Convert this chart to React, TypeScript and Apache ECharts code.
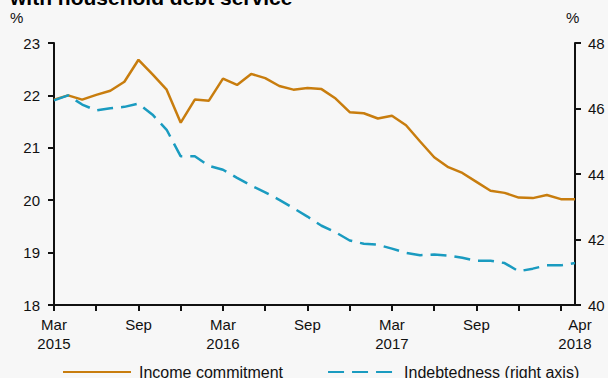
import React, { useEffect, useRef } from "react";
import * as echarts from "echarts";

const categories = [
  "2015-03", "2015-04", "2015-05", "2015-06", "2015-07", "2015-08", "2015-09", "2015-10", "2015-11", "2015-12",
  "2016-01", "2016-02", "2016-03", "2016-04", "2016-05", "2016-06", "2016-07", "2016-08", "2016-09", "2016-10", "2016-11", "2016-12",
  "2017-01", "2017-02", "2017-03", "2017-04", "2017-05", "2017-06", "2017-07", "2017-08", "2017-09", "2017-10", "2017-11", "2017-12",
  "2018-01", "2018-02", "2018-03", "2018-04",
];

const incomeCommitment = [
  21.92, 22.0, 21.92, 22.01, 22.09, 22.26, 22.68, 22.4, 22.11, 21.48,
  21.92, 21.9, 22.32, 22.2, 22.41, 22.33, 22.18, 22.11, 22.14, 22.12, 21.94, 21.68,
  21.66, 21.56, 21.61, 21.43, 21.12, 20.82, 20.63, 20.52, 20.35, 20.18, 20.14, 20.05,
  20.04, 20.1, 20.02, 20.02,
];

const indebtedness = [
  46.25, 46.4, 46.12, 45.94, 46.01, 46.05, 46.15, 45.81, 45.35, 44.54,
  44.54, 44.25, 44.13, 43.88, 43.65, 43.44, 43.21, 42.96, 42.7, 42.42, 42.22, 41.97,
  41.87, 41.84, 41.72, 41.59, 41.52, 41.54, 41.51, 41.44, 41.35, 41.35, 41.28, 41.03,
  41.11, 41.21, 41.21, 41.28,
];

const xTickLabels: Record<number, string> = {
  0: "Mar\n2015",
  6: "Sep",
  12: "Mar\n2016",
  18: "Sep",
  24: "Mar\n2017",
  30: "Sep",
  37: "{pad|}Apr\n2018",
};

const seriesNames = ["Income commitment", "Indebtedness (right axis)"];
const titleText = "with household debt service";

const FONT = "'Liberation Sans', Arial, sans-serif";
const ORANGE = "#C87D0E";
const BLUE = "#1A9BC0";
const BLACK = "#111111";

export default function App() {
  const ref = useRef<HTMLDivElement>(null);
  useEffect(() => {
    if (!ref.current) return;
    const chart = echarts.init(ref.current, null, { renderer: "svg" });
    const axisCommon = {
      axisLine: { show: true, lineStyle: { color: BLACK, width: 2 } },
      axisTick: { show: true, length: 6, lineStyle: { color: BLACK, width: 2 } },
      splitLine: { show: false },
    };
    chart.setOption({
      animation: false,
      backgroundColor: "#f7f7f7",
      textStyle: { fontFamily: FONT },
      grid: { left: 54, right: 33, top: 43, bottom: 73, containLabel: false },
      graphic: [
        {
          type: "text",
          left: 10,
          top: -13,
          style: { text: titleText, font: `bold 21px ${FONT}`, fill: "#000" },
        },
        {
          type: "text",
          left: 10,
          top: 10,
          style: { text: "%", font: `15px ${FONT}`, fill: BLACK },
        },
        {
          type: "text",
          left: 566,
          top: 10,
          style: { text: "%", font: `15px ${FONT}`, fill: BLACK },
        },
      ],
      legend: {
        left: 62,
        top: 364,
        padding: 0,
        itemWidth: 68,
        itemHeight: 14,
        itemGap: 44,
        itemStyle: { opacity: 0 },
        textStyle: { fontSize: 16, color: BLACK, fontFamily: FONT, padding: [0, 0, 0, 3] },
        data: seriesNames,
      },
      xAxis: {
        type: "category",
        data: categories,
        boundaryGap: false,
        ...axisCommon,
        axisTick: {
          show: true,
          length: 6,
          interval: (i: number) => i % 3 === 0,
          lineStyle: { color: BLACK, width: 2 },
        },
        axisLabel: {
          interval: (i: number) => xTickLabels[i] !== undefined,
          formatter: (_v: string, i: number) => xTickLabels[i] ?? "",
          fontSize: 15,
          lineHeight: 19,
          color: BLACK,
          margin: 10,
          fontFamily: FONT,
          rich: { pad: { width: 10, fontSize: 15, lineHeight: 19 } },
        },
      },
      yAxis: [
        {
          type: "value",
          min: 18,
          max: 23,
          interval: 1,
          position: "left",
          ...axisCommon,
          axisLabel: { fontSize: 15, color: BLACK, margin: 14, fontFamily: FONT },
        },
        {
          type: "value",
          min: 40,
          max: 48,
          interval: 2,
          position: "right",
          ...axisCommon,
          axisLabel: { fontSize: 15, color: BLACK, margin: 13, fontFamily: FONT },
        },
      ],
      series: [
        {
          name: seriesNames[0],
          type: "line",
          data: incomeCommitment,
          yAxisIndex: 0,
          symbol: "none",
          lineStyle: { color: ORANGE, width: 2.5 },
          itemStyle: { color: ORANGE },
        },
        {
          name: seriesNames[1],
          type: "line",
          data: indebtedness,
          yAxisIndex: 1,
          symbol: "none",
          lineStyle: { color: BLUE, width: 2.5, type: [16, 8] },
          itemStyle: { color: BLUE },
        },
      ],
    });
    return () => chart.dispose();
  }, []);
  return (
    <div
      ref={ref}
      style={{ position: "fixed", left: 0, top: 0, width: 608, height: 378 }}
    />
  );
}
